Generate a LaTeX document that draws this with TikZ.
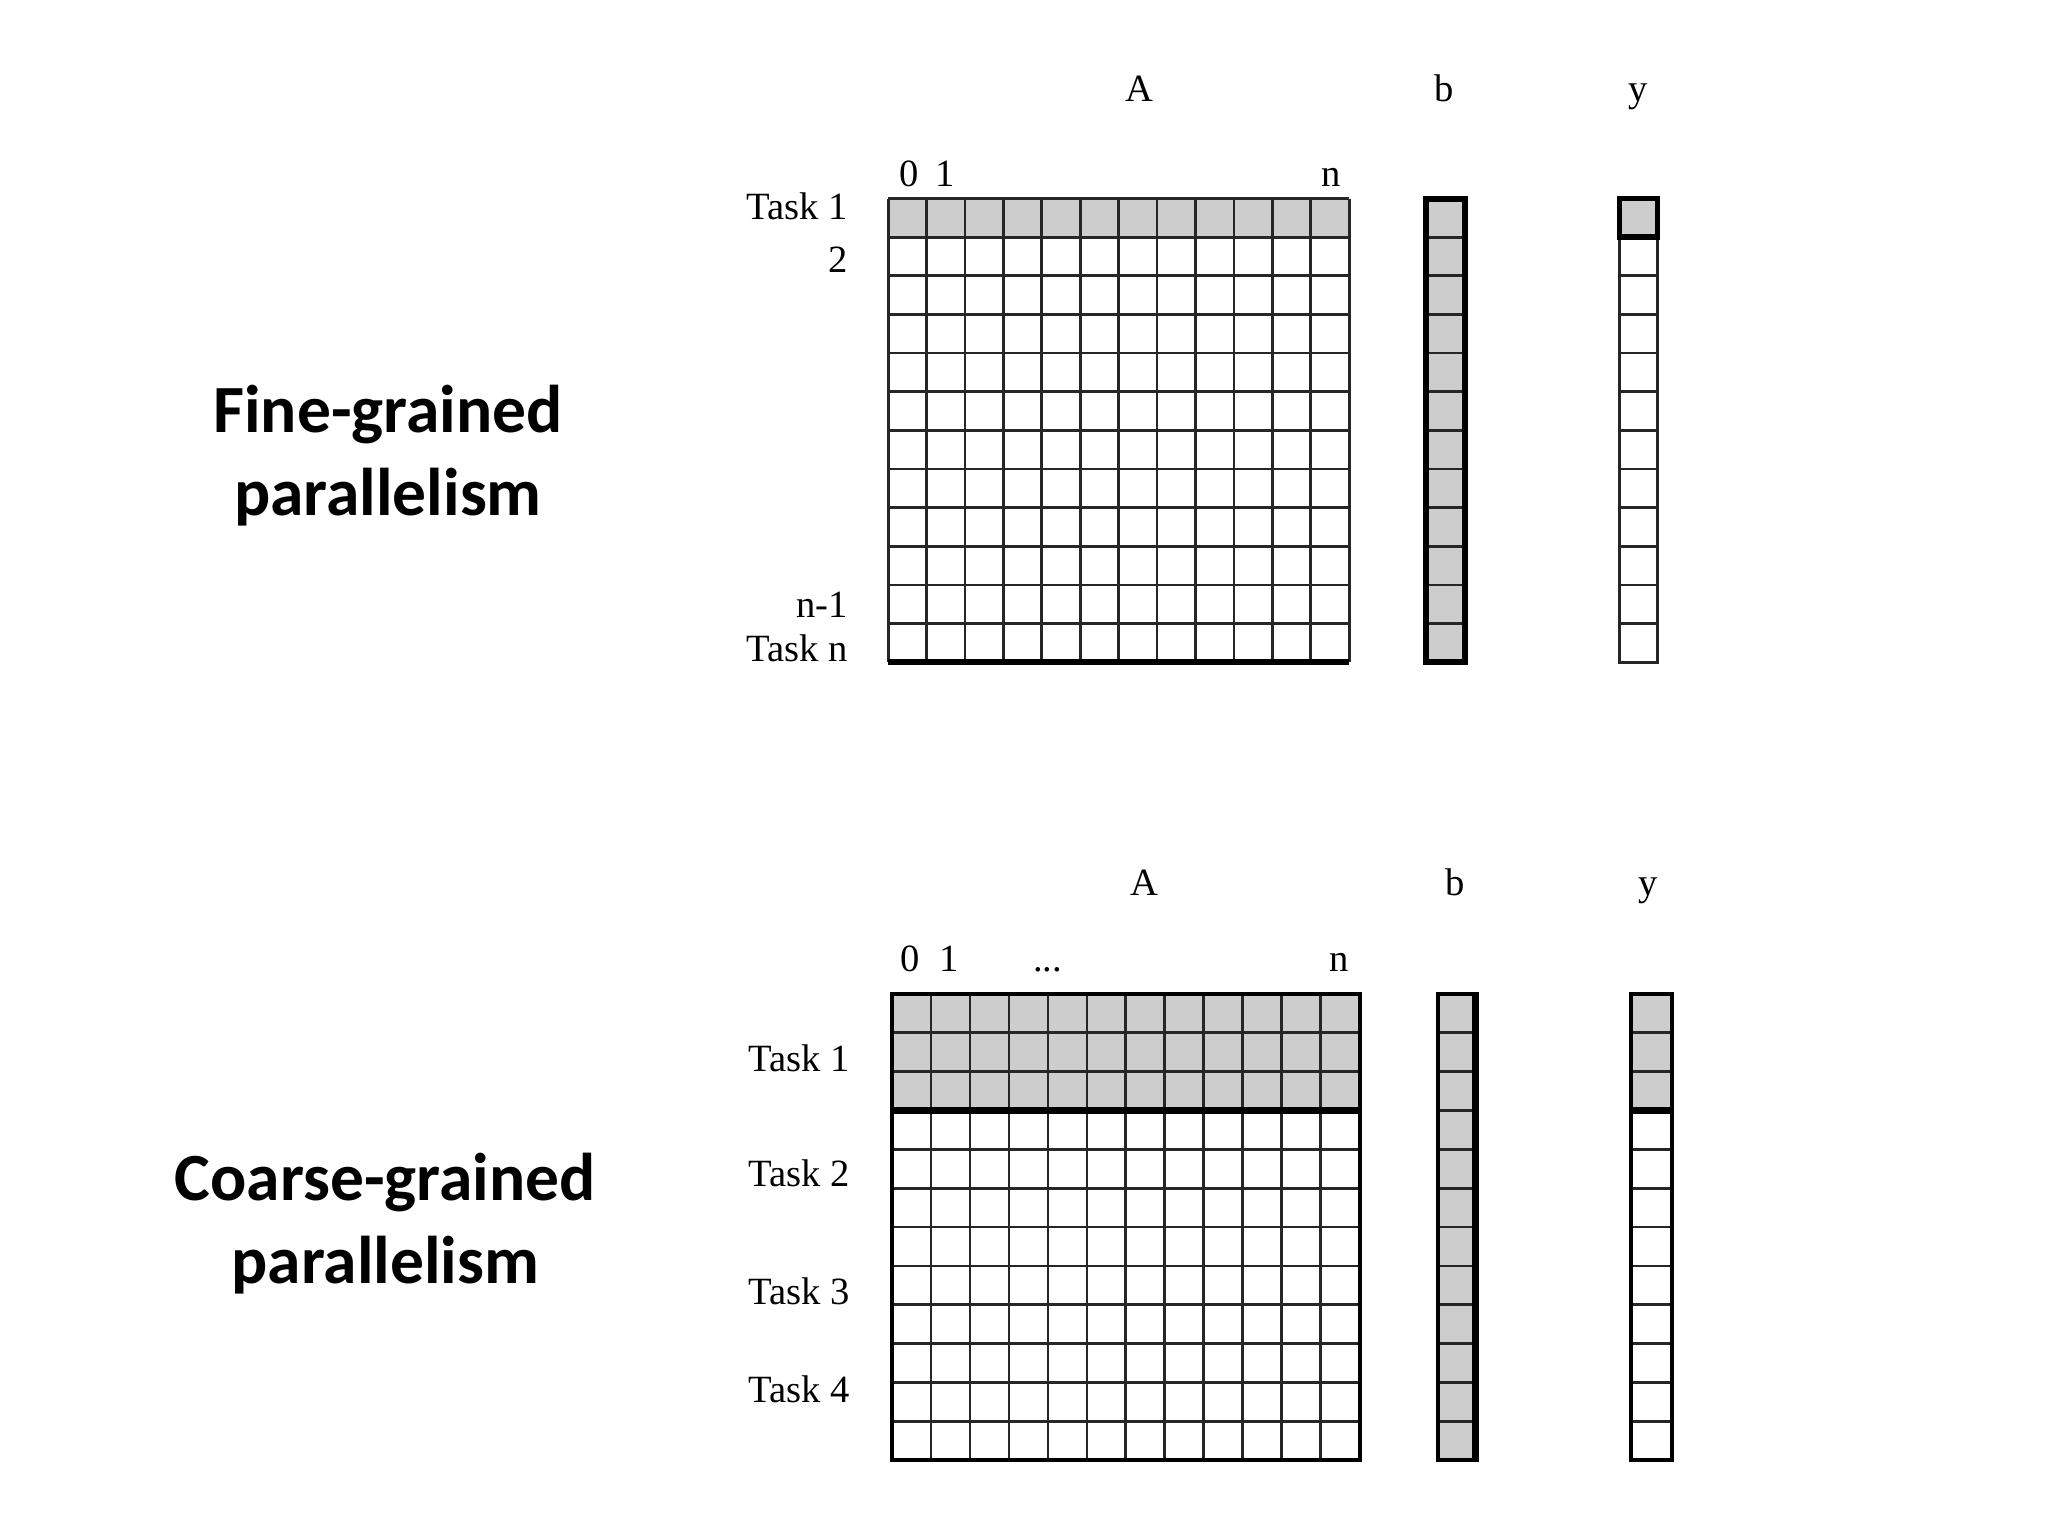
\documentclass[tikz,border=0pt]{standalone}
\usepackage{fontspec}
\setmainfont{Liberation Serif}
\newfontfamily\titlefont{Carlito}
\definecolor{cellgray}{HTML}{CDCDCD}
\begin{document}
\begin{tikzpicture}[x=0.01cm,y=-0.01cm,
  gridline/.style={line width=0.6pt, draw=black!85},
  thickline/.style={line width=1.2pt, draw=black},
  lbl/.style={font=\fontsize{8.4}{9}\selectfont, inner sep=0pt},
  blbl/.style={lbl, anchor=base},
  ttl/.style={font=\titlefont\bfseries\fontsize{14.7}{18.1}\selectfont, align=center, inner sep=0pt}]
\useasboundingbox (0,0) rectangle (1568,1176);

% ---------- titles ----------
\node[ttl] (fine) at (297,349) {Fine-grained\\parallelism};
\node[ttl] (coarse) at (295,937) {Coarse-grained\\parallelism};

% ---------- top: fine-grained ----------
% matrix A
\fill[cellgray] (680,152) rectangle (1033,181.6);
\foreach \i in {0,...,12} {
  \draw[gridline] ({680+\i*29.417},152) -- ({680+\i*29.417},507);
  \draw[gridline] (680,{152+\i*29.583}) -- (1033,{152+\i*29.583});
}
\draw[thickline] (680,507) -- (1033,507);
% vector b
\fill[cellgray] (1092,152) rectangle (1122,507);
\foreach \i in {1,...,11}
  \draw[gridline] (1092,{152+\i*29.583}) -- (1122,{152+\i*29.583});
\draw[line width=1.3pt] (1092,152) rectangle (1122,507);
% vector y
\fill[cellgray] (1240,152) rectangle (1269,181.6);
\foreach \i in {1,...,11}
  \draw[gridline] (1240,{152+\i*29.583}) -- (1269,{152+\i*29.583});
\draw[gridline] (1240,152) rectangle (1269,507);
\draw[line width=1.2pt] (1240,181.6) -- (1240,152) -- (1269,152) -- (1269,181.6) -- cycle;

% labels
\node[blbl] (tA) at (872,78) {A};
\node[blbl] (tb) at (1106,78) {b};
\node[blbl] (ty) at (1254,78) {y};
\node[blbl] (t0) at (696,143) {0};
\node[blbl] (t1) at (724,143) {1};
\node[blbl] (tn) at (1019,143) {n};
\node[lbl, anchor=east] (tT1) at (650,158) {Task 1};
\node[lbl, anchor=east] (tT2) at (650,199) {2};
\node[lbl, anchor=east] (tTn1) at (650,463) {n-1};
\node[lbl, anchor=east] (tTn) at (650,496) {Task n};

% ---------- bottom: coarse-grained ----------
% matrix A
\fill[cellgray] (683,761) rectangle (1041,850.25);
\foreach \i in {0,...,12} {
  \draw[gridline] ({683+\i*29.833},761) -- ({683+\i*29.833},1118);
  \draw[gridline] (683,{761+\i*29.75}) -- (1041,{761+\i*29.75});
}
\draw[line width=1.4pt] (683,850.25) -- (1041,850.25);
\draw[line width=0.9pt] (683,761) rectangle (1041,1118);
% vector b
\fill[cellgray] (1101,761) rectangle (1131,1118);
\foreach \i in {1,...,11}
  \draw[gridline] (1101,{761+\i*29.75}) -- (1131,{761+\i*29.75});
\draw[line width=0.9pt] (1101,761) rectangle (1131,1118);
\draw[line width=1.4pt] (1129.5,761) -- (1129.5,1118);
% vector y
\fill[cellgray] (1249,761) rectangle (1280,850.25);
\foreach \i in {1,...,11}
  \draw[gridline] (1249,{761+\i*29.75}) -- (1280,{761+\i*29.75});
\draw[line width=0.9pt] (1249,761) rectangle (1280,1118);
\draw[line width=1.4pt] (1249,850.25) -- (1280,850.25);

% labels
\node[blbl] (bA) at (876,686) {A};
\node[blbl] (bb) at (1114,686) {b};
\node[blbl] (by) at (1262,686) {y};
\node[blbl] (b0) at (697,744) {0};
\node[blbl] (b1) at (727,744) {1};
\node[blbl] (bdots) at (802,744) {...};
\node[blbl] (bn) at (1025,744) {n};
\node[lbl, anchor=east] (bT1) at (651,810) {Task 1};
\node[lbl, anchor=east] (bT2) at (651,898) {Task 2};
\node[lbl, anchor=east] (bT3) at (651,989) {Task 3};
\node[lbl, anchor=east] (bT4) at (651,1064) {Task 4};
\end{tikzpicture}
\end{document}
